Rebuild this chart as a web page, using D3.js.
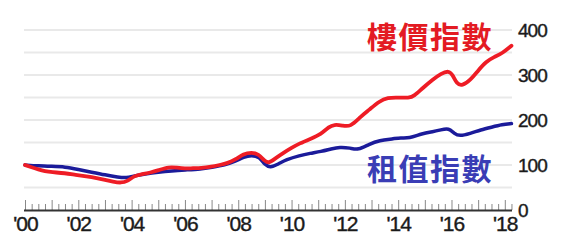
<!DOCTYPE html>
<html><head><meta charset="utf-8">
<script src="https://cdn.jsdelivr.net/npm/d3@7"></script>
<style>
html,body{margin:0;padding:0;background:#fff;}
svg{display:block;}
</style></head>
<body>
<svg id="chart" width="563" height="246"></svg>
<script>
// ---- data ----
const priceYears = [2000.0,2000.25,2000.5,2000.75,2001.0,2001.5,2001.9,2002.3,2002.7,2003.0,2003.3,2003.6,2003.85,2004.1,2004.4,2004.7,2005.0,2005.4,2005.7,2006.0,2006.3,2006.6,2007.0,2007.3,2007.6,2007.9,2008.2,2008.5,2008.75,2009.0,2009.15,2009.4,2009.7,2010.0,2010.3,2010.7,2011.1,2011.4,2011.6,2011.9,2012.2,2012.6,2012.9,2013.3,2013.6,2014.0,2014.4,2014.6,2014.9,2015.3,2015.6,2015.9,2016.05,2016.2,2016.4,2016.7,2017.0,2017.3,2017.6,2017.9,2018.25];
const priceIndex = [100,95,90,86,84,82,78,75,71,67,63,60,64,76,80,83,88,96,94,92,93,93,96,100,104,112,125,128,125,108,104,115,127,138,148,158,168,185,190,188,184,208,222,242,250,250,249,253,270,290,303,310,300,280,276,288,310,330,340,348,365];
const rentYears = [2000.0,2000.5,2001.0,2001.5,2002.0,2002.5,2003.0,2003.5,2003.8,2004.1,2004.5,2005.0,2005.5,2006.0,2006.6,2007.0,2007.5,2007.9,2008.2,2008.5,2008.8,2009.0,2009.2,2009.5,2009.8,2010.3,2010.7,2011.1,2011.5,2011.8,2012.2,2012.5,2012.9,2013.3,2013.8,2014.1,2014.4,2014.9,2015.3,2015.6,2015.9,2016.1,2016.3,2016.7,2017.1,2017.5,2017.9,2018.25];
const rentIndex = [100,98,97,96,90,84,78,73,71,76,80,84,87,89,91,95,100,108,118,122,118,100,94,102,112,121,126,130,136,140,138,133,146,155,158,161,159,170,174,178,182,170,164,170,178,184,190,192];
const yTicks = [0,100,200,300,400];
const gridValues = [50,100,150,200,250,300,350,400];
const labelYears = [2000,2002,2004,2006,2008,2010,2012,2014,2016,2018];
const priceLabel = "樓價指數";
const rentLabel = "租值指數";

const svg = d3.select("#chart");
const x = d3.scaleLinear().domain([2000, 2018.27]).range([25, 512]);
const y = d3.scaleLinear().domain([0, 400]).range([210, 30]);

// gridlines
svg.append("g").selectAll("line").data(gridValues).join("line")
  .attr("x1", 24).attr("x2", 512)
  .attr("y1", d => y(d)).attr("y2", d => y(d))
  .attr("stroke", "#e9e9e9").attr("stroke-width", 2);

// quarterly ticks
const quarters = d3.range(0, 18.26*4).map(i => 2000 + i/4);
const minor = quarters.filter(q => Math.abs(q - Math.round(q)) > 1e-6);
const major = d3.range(2000, 2019);
svg.append("g").attr("transform", "translate(0,210)")
  .call(d3.axisTop(x).tickValues(minor).tickSize(6).tickFormat(""))
  .call(g => g.select(".domain").remove())
  .selectAll("line").attr("stroke", "#888").attr("stroke-width", 1);
svg.append("g").attr("transform", "translate(0,210)")
  .call(d3.axisTop(x).tickValues(major).tickSize(10).tickFormat(""))
  .call(g => g.select(".domain").remove())
  .selectAll("line").attr("stroke", "#888").attr("stroke-width", 1);

// baseline
svg.append("line").attr("x1", 24).attr("x2", 512).attr("y1", 210.5).attr("y2", 210.5)
  .attr("stroke", "#333").attr("stroke-width", 2);

// x labels
const xAxis = svg.append("g").attr("transform", "translate(0,211)")
  .call(d3.axisBottom(x).tickValues(labelYears).tickSize(0).tickPadding(5)
    .tickFormat(d => "'" + String(d % 100).padStart(2, "0")));
xAxis.select(".domain").remove();
xAxis.selectAll("text").attr("font-family", "'Liberation Sans Narrow','Liberation Sans',Arial,sans-serif")
  .attr("font-size", 21).attr("fill", "#1a1a1a").attr("stroke", "#1a1a1a").attr("stroke-width", 0.4)
  .attr("letter-spacing", -1);

// y labels
const yAxis = svg.append("g").attr("transform", "translate(512,0)")
  .call(d3.axisRight(y).tickValues(yTicks).tickSize(0).tickPadding(6));
yAxis.select(".domain").remove();
yAxis.selectAll("text").attr("font-family", "'Liberation Sans',Arial,sans-serif")
  .attr("font-size", 19).attr("fill", "#1a1a1a").attr("letter-spacing", -1)
  .attr("stroke", "#1a1a1a").attr("stroke-width", 0.4);

// lines
const line = d3.line().x(d => x(d[0])).y(d => y(d[1])).curve(d3.curveBasis);
const rentData = rentYears.map((t, i) => [t, rentIndex[i]]);
const priceData = priceYears.map((t, i) => [t, priceIndex[i]]);
svg.append("path").datum(rentData).attr("d", line)
  .attr("fill", "none").attr("stroke", "#1b1b9a").attr("stroke-width", 3.5)
  .attr("stroke-linejoin", "round").attr("stroke-linecap", "round");
svg.append("path").datum(priceData).attr("d", line)
  .attr("fill", "none").attr("stroke", "#ee1c25").attr("stroke-width", 3.8)
  .attr("stroke-linejoin", "round").attr("stroke-linecap", "round");

// titles
svg.append("text").attr("x", 430).attr("y", 35).attr("text-anchor", "middle")
  .attr("dominant-baseline", "central")
  .attr("font-family", "'Noto Sans CJK TC','Noto Sans CJK SC',sans-serif")
  .attr("font-weight", "bold").attr("font-size", 30).attr("fill", "#e31b23")
  .attr("letter-spacing", 1.5)
  .text(priceLabel);
svg.append("text").attr("x", 430).attr("y", 167).attr("text-anchor", "middle")
  .attr("dominant-baseline", "central")
  .attr("font-family", "'Noto Sans CJK TC','Noto Sans CJK SC',sans-serif")
  .attr("font-weight", "bold").attr("font-size", 30).attr("fill", "#3a3db5")
  .attr("letter-spacing", 1.5)
  .text(rentLabel);
</script>
</body></html>
